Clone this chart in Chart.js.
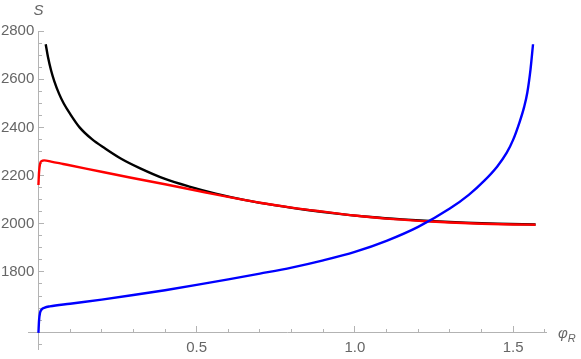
<!DOCTYPE html>
<html>
<head>
<meta charset="utf-8">
<script src="https://cdn.jsdelivr.net/npm/chart.js@4.4.0/dist/chart.umd.min.js"></script>
<style>
  html, body { margin: 0; padding: 0; background: #fff; }
  #wrap { width: 581px; height: 359px; }
</style>
</head>
<body>
<div id="wrap"><canvas id="myChart"></canvas></div>
<script>
/* values */
const phiBlack = [0.023, 0.03, 0.04, 0.05, 0.065, 0.08, 0.1, 0.13, 0.17, 0.21, 0.26, 0.32, 0.4, 0.48, 0.56, 0.65, 0.75, 0.85, 0.95, 1.05, 1.15, 1.25, 1.35, 1.45, 1.571];
const sBlack   = [2745, 2693, 2636, 2592, 2540, 2499, 2456, 2400, 2350, 2313, 2271, 2231, 2186, 2153, 2125, 2099, 2076, 2057, 2041, 2028, 2018, 2010, 2004, 2000, 1997];

const phiRed = [0, 0.002, 0.005, 0.01, 0.018, 0.04, 0.078, 0.15, 0.289, 0.4, 0.51, 0.542, 0.62, 0.7, 0.8, 0.9, 1.0, 1.1, 1.227, 1.3, 1.4, 1.5, 1.571];
const sRed   = [2161, 2215, 2248, 2260, 2263, 2258, 2248, 2229, 2192, 2164, 2135, 2126, 2106, 2087, 2067, 2050, 2034, 2021, 2010, 2005, 2000, 1997, 1996];

const phiBlue = [0, 0.002, 0.005, 0.01, 0.02, 0.036, 0.1, 0.2, 0.3, 0.4, 0.5, 0.6, 0.7, 0.8, 0.9, 1.0, 1.1, 1.2, 1.3, 1.36, 1.41, 1.45, 1.48, 1.5, 1.52, 1.535, 1.545, 1.555, 1.563];
const sBlue   = [1547, 1600, 1630, 1644, 1652, 1657, 1668, 1685, 1704, 1724, 1746, 1769, 1793, 1818, 1848, 1883, 1929, 1987, 2063, 2120, 2180, 2238, 2295, 2348, 2420, 2485, 2545, 2640, 2745];

/* tick labels */
const xMajor = [0.5, 1.0, 1.5];
const xMinor = [0.1, 0.2, 0.3, 0.4, 0.6, 0.7, 0.8, 0.9, 1.1, 1.2, 1.3, 1.4, 1.6];
const yMajor = [1800, 2000, 2200, 2400, 2600, 2800];
const yMinor = [1500, 1550, 1600, 1650, 1700, 1750, 1850, 1900, 1950, 2050, 2100, 2150, 2250, 2300, 2350, 2450, 2500, 2550, 2650, 2700, 2750];

const X_MIN = -0.033, X_MAX = 1.604;
const Y_MIN = 1480, Y_MAX = 2800;
const AXIS_Y = 1547;   // where the phi axis crosses

const AXIS_COLOR = '#b3b3b3';
const LABEL_COLOR = '#666666';
const FONT = "'Liberation Sans', Arial, sans-serif";

const toPoints = (xs, ys) => xs.map((v, i) => ({x: v, y: ys[i]}));

function line(label, xs, ys, color, order) {
  return {
    label: label,
    data: toPoints(xs, ys),
    borderColor: color,
    backgroundColor: color,
    borderWidth: 2.4,
    pointRadius: 0,
    fill: false,
    order: order,
    cubicInterpolationMode: 'monotone',
    xAxisID: 'x',
    yAxisID: 'y'
  };
}

function axisScale(axis, pos, ticks, tickLen, labels, cb) {
  return {
    type: 'linear',
    axis: axis,
    position: pos,
    min: axis === 'x' ? X_MIN : Y_MIN,
    max: axis === 'x' ? X_MAX : Y_MAX,
    afterBuildTicks: s => { s.ticks = ticks.map(v => ({value: v})); },
    grid: { display: true, drawOnChartArea: false, drawTicks: true, tickLength: tickLen, color: AXIS_COLOR, lineWidth: 1 },
    border: { display: labels, color: AXIS_COLOR, width: 1 },
    ticks: {
      display: labels,
      autoSkip: false,
      maxRotation: 0,
      color: LABEL_COLOR,
      font: { family: FONT, size: 15 },
      padding: axis === 'x' ? 13 : 0,
      callback: cb
    }
  };
}

// axis names: S on top of the vertical axis, phi_R after the horizontal one
const axisLabels = {
  id: 'axisLabels',
  afterDraw(chart) {
    const ctx = chart.ctx;
    const x = chart.scales.x, y = chart.scales.y;
    ctx.save();
    ctx.fillStyle = LABEL_COLOR;
    ctx.font = 'italic 15px ' + FONT;
    ctx.textAlign = 'center';
    ctx.textBaseline = 'alphabetic';
    ctx.fillText('S', x.getPixelForValue(0), 15);
    const ay = y.getPixelForValue(AXIS_Y);
    ctx.textAlign = 'left';
    const px = x.right + 12;
    ctx.fillText('\u03C6', px, ay + 5);
    const w = ctx.measureText('\u03C6').width;
    ctx.font = 'italic 11px ' + FONT;
    ctx.fillText('R', px + w, ay + 9);
    ctx.restore();
  }
};

let myChart = document.getElementById('myChart').getContext('2d');
let lineChart = new Chart(myChart, {
  type: 'line',
  data: {
    datasets: [
      line('black', phiBlack, sBlack, '#000000', 3),
      line('red', phiRed, sRed, '#ff0000', 2),
      line('blue', phiBlue, sBlue, '#0000ff', 1)
    ]
  },
  options: {
    responsive: true,
    maintainAspectRatio: false,
    animation: false,
    layout: { padding: { left: 28, right: 35, top: 31, bottom: 10 } },
    plugins: { legend: { display: false }, tooltip: { enabled: false } },
    scales: {
      x: axisScale('x', {y: AXIS_Y}, xMajor, -7, true, v => v.toFixed(1)),
      xMinor: axisScale('x', {y: AXIS_Y}, xMinor, -4, false),
      y: axisScale('y', {x: 0}, yMajor, -6, true, v => v + ' '),
      yMinor: axisScale('y', {x: 0}, yMinor, -4, false)
    }
  },
  plugins: [axisLabels]
});
</script>
</body>
</html>
